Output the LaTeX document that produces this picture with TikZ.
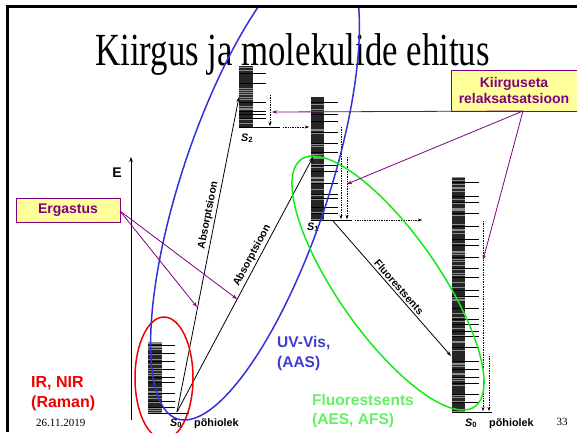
\documentclass[tikz,border=0pt]{standalone}
\usepackage{fontspec}
\setmainfont{Liberation Serif}
\newfontfamily\arial{Liberation Sans}
\usetikzlibrary{arrows.meta}
\definecolor{purp}{RGB}{128,0,128}
\definecolor{boxyel}{RGB}{255,255,153}
\definecolor{blueE}{RGB}{50,50,215}
\definecolor{blueT}{RGB}{60,60,210}
\definecolor{greenE}{RGB}{20,235,20}
\definecolor{greenT}{RGB}{100,240,100}
\definecolor{redE}{RGB}{240,0,0}
\newcommand\ladderdraw[7]{%
  \fill[black!85] (#1,#5) rectangle (#2,#6);
  \pgfmathtruncatemacro\nn{(#6-#5)/1.4}
  \foreach \i in {0,...,\nn}{%
    \pgfmathrandominteger{\rr}{0}{2}%
    \ifnum\rr=0\relax\draw[black!45,line width=0.6pt] (#1,#5+\i*1.4) -- (#2,#5+\i*1.4);\fi
  }
  \foreach \t in {#7} \draw[line width=0.8pt] (#1,\t) -- (#3,\t);
  \draw[line width=0.8pt] (#1,#6) -- (#4,#6);
}
\begin{document}
\begin{tikzpicture}[x=1pt,y=-1pt,
  purparrow/.style={purp,line width=0.8pt,-{Stealth[length=5pt,width=3.5pt]}},
  blackarrow/.style={black,line width=0.8pt,-{Stealth[length=5pt,width=3.5pt]}},
  dotarrow/.style={black,line width=0.7pt,densely dotted,-{Stealth[length=4pt,width=3pt]}},
  purpbox/.style={draw=purp,line width=0.8pt,fill=boxyel,text=purp,font=\arial\bfseries\fontsize{14}{16.5}\selectfont,align=center,inner sep=0pt},
  lbl/.style={font=\arial\bfseries\fontsize{10.8}{12}\selectfont,inner sep=0pt},
  big/.style={font=\arial\bfseries\fontsize{15.5}{20}\selectfont,align=left,inner sep=0pt,anchor=north west},
  ell/.style={line width=1.5pt}]
\useasboundingbox (0,0) rectangle (577,432);
\fill[white] (0,0) rectangle (577,432);
\pgfmathsetseed{7}
% slide frame
\draw[line width=3pt] (577,6.5) -- (7,6.5) -- (7,432);
% title
\node[font=\fontsize{46}{50}\selectfont,xscale=0.756,anchor=base,inner sep=0pt] (title) at (292.5,65) {Kiirgus ja molekulide ehitus};
% energy axis
\coordinate (axb) at (131,420);
\coordinate (axt) at (131,157);
\draw[line width=1pt,-{Stealth[length=5pt,width=3.5pt]}] (axb) -- (axt);
\node[lbl,font=\arial\bfseries\fontsize{14}{16}\selectfont] (E) at (117,173) {E};
% ladders
\ladderdraw{148}{162}{175}{189}{342}{413}{345,353,361,369,377,382,393,401,407}
\ladderdraw{239}{253}{266}{280}{66}{127}{73,83,102,111,114,118}
\ladderdraw{311}{324}{338}{352}{97}{220}{102,114,121,132,143,152,165,171,183,194,198,207,213}
\ladderdraw{452}{465}{479}{492}{177}{412}{182,196,202,213,226,239,245,257,268,277,290,296,308,319,324,331,336,347,361,369,377,383,394,402}
% state labels
\node[lbl,anchor=base west] (s0a) at (170,426) {\itshape S\textsubscript{\upshape 0}};
\node[lbl,anchor=base west] (p0a) at (194,426) {põhiolek};
\node[lbl,anchor=base west] (s2) at (241,141) {\itshape S\textsubscript{\upshape 2}};
\node[lbl,anchor=base west] (s1) at (307,230) {\itshape S\textsubscript{\upshape 1}};
\node[lbl,anchor=base west] (s0b) at (465,426) {\itshape S\textsubscript{\upshape 0}};
\node[lbl,anchor=base west] (p0b) at (489,426) {põhiolek};
% dotted relaxation arrows
\coordinate (d2a) at (270,95);  \coordinate (d2b) at (270,126);
\coordinate (h2a) at (283,127); \coordinate (h2b) at (309,127);
\coordinate (d1a) at (341,127); \coordinate (d1b) at (341,219);
\coordinate (d1c) at (347,157); \coordinate (d1d) at (347,219);
\coordinate (h1a) at (355,220); \coordinate (h1b) at (422,220);
\coordinate (d0a) at (483,221); \coordinate (d0b) at (483,411);
\coordinate (d0c) at (489,356); \coordinate (d0d) at (489,411);
\draw[dotarrow] (d2a) -- (d2b);
\draw[dotarrow] (h2a) -- (h2b);
\draw[dotarrow] (d1a) -- (d1b);
\draw[dotarrow] (d1c) -- (d1d);
\draw[dotarrow] (h1a) -- (h1b);
\draw[dotarrow] (d0a) -- (d0b);
\draw[dotarrow] (d0c) -- (d0d);
% absorption and fluorescence
\coordinate (g0) at (177,412);
\coordinate (e2) at (239,97);
\coordinate (e1) at (313,157);
\coordinate (f1) at (333,221);
\coordinate (f0) at (451,356);
\draw[blackarrow] (g0) -- node[pos=0.62,sloped,above=2pt,lbl,font=\arial\bfseries\fontsize{10.5}{12}\selectfont] (abs1) {Absorptsioon} (e2);
\draw[blackarrow] (g0) -- node[pos=0.6,sloped,above=2pt,lbl,font=\arial\bfseries\fontsize{10.5}{12}\selectfont] (abs2) {Absorptsioon} (e1);
\draw[blackarrow] (f1) -- node[pos=0.52,sloped,above=2pt,lbl,font=\arial\bfseries\fontsize{10.5}{12}\selectfont] (fl) {Fluorestsents} (f0);
% ellipses
\begin{scope}
\clip (8.5,8) rectangle (577,432);
\draw[redE,ell] (164,378) ellipse [x radius=29, y radius=61];
\draw[blueE,ell] plot[variable=\t,domain=0:360,samples=140,smooth] ({255+77*cos(\t)-70.5*sin(\t)},{185+235*sin(\t)});
\draw[greenE,ell] plot[variable=\t,domain=0:360,samples=140,smooth] ({388+60*cos(\t)+75*sin(\t)},{283+127*sin(\t)});
\end{scope}
% boxes
\node[purpbox,minimum width=104pt,minimum height=24pt] (erg) at (68,210) {Ergastus};
\node[purpbox,minimum width=126pt,minimum height=41pt] (relax) at (514,90.5) {Kiirguseta\\relaksatsatsioon};
\coordinate (ergs) at (120,211);
\coordinate (rels) at (523,111);
\coordinate (ta1) at (197,307);
\coordinate (ta2) at (237,299);
\coordinate (tr2) at (272,112);
\coordinate (tr1) at (347,184);
\coordinate (tr0) at (483,260);
\draw[purparrow] (ergs) -- (ta1);
\draw[purparrow] (ergs) -- (ta2);
\draw[purparrow] (rels) -- (tr2);
\draw[purparrow] (rels) -- (tr1);
\draw[purparrow] (rels) -- (tr0);
% method labels
\node[big,text=redE,font=\arial\bfseries\fontsize{16}{20}\selectfont] (ir) at (31,376) {IR, NIR\\(Raman)};
\node[big,text=blueT] (uv) at (277,336) {UV-Vis,\\(AAS)};
\node[big,text=greenT,font=\arial\bfseries\fontsize{15.5}{19}\selectfont] (fluo) at (312,394) {Fluorestsents\\(AES, AFS)};
% footer
\node[font=\fontsize{11}{12}\selectfont,anchor=base west,inner sep=0pt] (date) at (36,426) {26.11.2019};
\node[font=\fontsize{11}{12}\selectfont,anchor=base,inner sep=0pt] (page) at (562,425) {33};
\end{tikzpicture}
\end{document}
